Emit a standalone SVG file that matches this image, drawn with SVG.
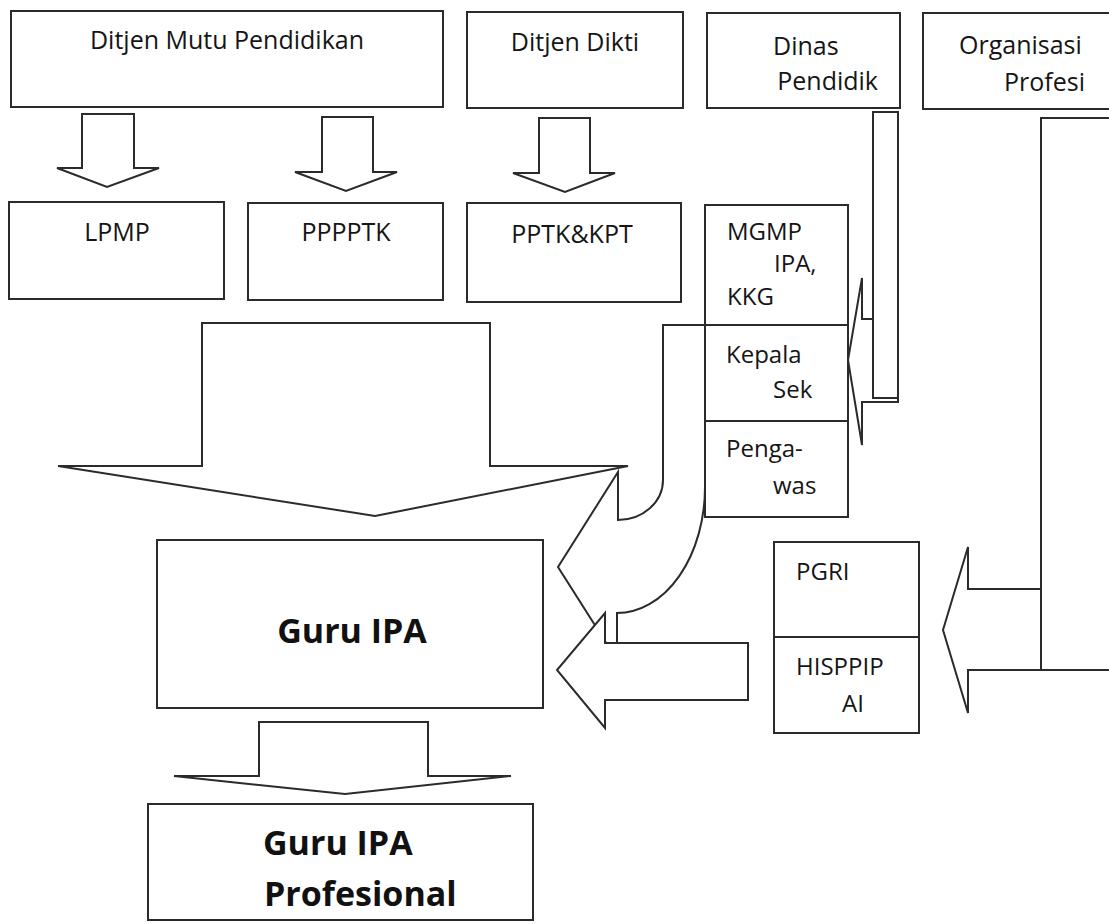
<svg xmlns="http://www.w3.org/2000/svg" width="1109" height="924" viewBox="0 0 1109 924">
<style>
.s{fill:#fff;stroke:#2b2b2b;stroke-width:2;stroke-linejoin:miter}
.l{fill:none;stroke:#2b2b2b;stroke-width:2}
.t{font-family:"Open Sans","Noto Sans",sans-serif;font-size:25px;fill:#151515}
.c{font-family:"Open Sans","Noto Sans",sans-serif;font-size:24px;fill:#151515}
.b{font-family:"Open Sans","Noto Sans",sans-serif;font-size:34px;font-weight:bold;fill:#111}
</style>
<rect width="1109" height="924" fill="#fff"/>
<g id="connectors">
<path class="s" d="M82,114 H134 V168 H159 L107,187 L57,168 H82 Z"/>
<path class="s" d="M322,117 H373 V172 H397 L346,191 L295,172 H322 Z"/>
<path class="s" d="M539,118 H590 V173 H615 L565,192 L513,173 H539 Z"/>
<path class="s" d="M202,323 H490 V466 H628 L375,516 L58,466 H202 Z"/>
<path class="s" d="M705,325 H663 V480 A45,40 0 0 1 618,520 V472 L558,567 L612,652 H617 V613 A88,126 0 0 0 705,487 Z"/>
<path class="s" d="M748,643 H605 V613 L557,670 L605,728 V700 H748 Z"/>
<path class="s" d="M898,319 H862 V278 L848,360 L862,445 V402 H898 Z"/>
<rect class="s" x="873" y="112" width="25" height="286"/>
<path class="s" d="M1041,589 H968 V547 L943,630 L968,713 V670 H1041 Z"/>
<path class="s" d="M259,722 H428 V776 H511 L345,794 L174,776 H259 Z"/>
</g>
<g id="ditjen-mutu"><rect class="s" x="11" y="11" width="432" height="96"/><text class="t" x="227" y="49" text-anchor="middle">Ditjen Mutu Pendidikan</text></g>
<g id="ditjen-dikti"><rect class="s" x="467" y="12" width="216" height="96"/><text class="t" x="575" y="51" text-anchor="middle">Ditjen Dikti</text></g>
<g id="dinas"><rect class="s" x="707" y="13" width="193" height="95"/><text class="t" x="773" y="55">Dinas</text><text class="t" x="878" y="90" text-anchor="end">Pendidik</text></g>
<g id="organisasi"><rect class="s" x="923" y="13" width="200" height="96"/><text class="t" x="959" y="54">Organisasi</text><text class="t" x="1004" y="91">Profesi</text></g>
<g id="org-bar"><rect class="s" x="1041" y="118" width="80" height="552"/></g>
<g id="lpmp"><rect class="s" x="9" y="202" width="215" height="97"/><text class="t" x="117" y="241" text-anchor="middle">LPMP</text></g>
<g id="ppppptk"><rect class="s" x="248" y="203" width="195" height="97"/><text class="t" x="346" y="241" text-anchor="middle">PPPPTK</text></g>
<g id="pptk"><rect class="s" x="467" y="203" width="214" height="99"/><text class="t" x="572" y="243" text-anchor="middle">PPTK&amp;KPT</text></g>
<g id="mgmp-column">
<rect class="s" x="705" y="205" width="143" height="312"/>
<line class="l" x1="705" y1="325" x2="848" y2="325"/>
<line class="l" x1="705" y1="421" x2="848" y2="421"/>
<text class="c" x="727" y="240">MGMP</text><text class="c" x="774" y="272">IPA,</text><text class="c" x="727" y="305">KKG</text>
<text class="c" x="726" y="363">Kepala</text><text class="c" x="773" y="398">Sek</text>
<text class="c" x="726" y="457">Penga-</text><text class="c" x="773" y="494">was</text>
</g>
<g id="pgri-column">
<rect class="s" x="774" y="542" width="145" height="191"/>
<line class="l" x1="774" y1="637" x2="919" y2="637"/>
<text class="c" x="796" y="580">PGRI</text><text class="c" x="796" y="675">HISPPIP</text><text class="c" x="842" y="712">AI</text>
</g>
<g id="guru-ipa"><rect class="s" x="157" y="540" width="386" height="168"/><text class="b" x="352" y="643" text-anchor="middle">Guru IPA</text></g>
<g id="guru-ipa-profesional"><rect class="s" x="148" y="804" width="385" height="116"/><text class="b" x="263" y="855">Guru IPA</text><text class="b" x="264" y="906">Profesional</text></g>
</svg>
